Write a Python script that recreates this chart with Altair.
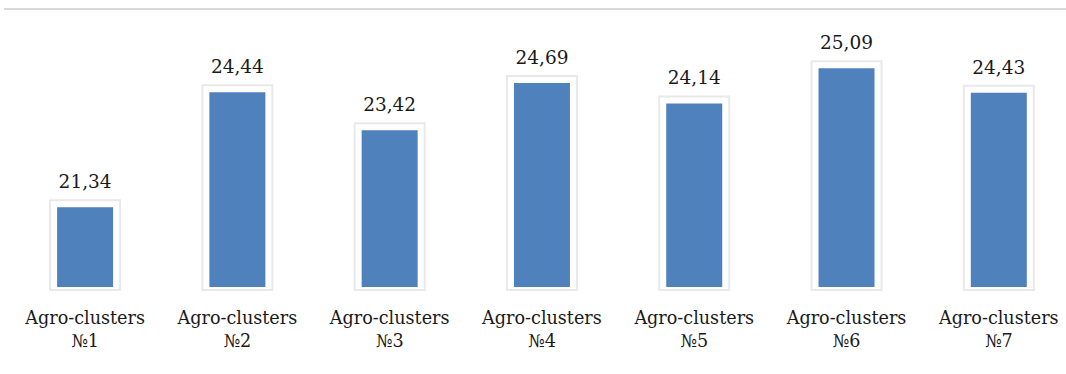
import altair as alt
import pandas as pd

# Agro-cluster values (comma used as decimal separator in labels)
clusters = ["№1", "№2", "№3", "№4", "№5", "№6", "№7"]
values = [21.34, 24.44, 23.42, 24.69, 24.14, 25.09, 24.43]

y_min, y_max = 19.19, 26.12

df = pd.DataFrame({
    "cluster": ["Agro-clusters\n" + c for c in clusters],
    "value": values,
    "label": [f"{v:.2f}".replace(".", ",") for v in values],
})

font = "DejaVu Serif"
text_color = "#1a1a1a"
bar_color = "#4F81BD"

x_enc = alt.X(
    "cluster:N",
    sort=None,
    title=None,
    scale=alt.Scale(paddingInner=0.632, paddingOuter=0.316, align=0.593),
    axis=alt.Axis(
        labelAngle=0,
        domain=False,
        ticks=False,
        labelFont=font,
        labelFontSize=17.6,
        labelColor=text_color,
        labelPadding=22,
        labelLineHeight=23,
        labelExpr="split(datum.label, '\\n')",
    ),
)
y_enc = alt.Y(
    "value:Q",
    title=None,
    scale=alt.Scale(domain=[y_min, y_max], zero=False, nice=False),
    axis=None,
)

base = alt.Chart(df)

# soft white frame behind each bar
frame = base.mark_bar(
    width=70,
    yOffset=-7,
    y2Offset=3,
    fill="white",
    stroke="#e9e9e9",
    strokeWidth=2,
).encode(x=x_enc, y=y_enc, y2=alt.datum(y_min))

bars = base.mark_bar(width=56, color=bar_color).encode(
    x=x_enc, y=y_enc, y2=alt.datum(y_min)
)

labels = base.mark_text(
    font=font,
    fontSize=18.5,
    color=text_color,
    baseline="alphabetic",
    dy=-19,
).encode(x=x_enc, y=y_enc, text="label:N")

# thin border line at the top of the chart
border = base.mark_rule(color="#d9d9d9", strokeWidth=1).encode(
    x=alt.value(4), x2=alt.value(1066), y=alt.value(-21)
)

chart = (
    alt.layer(border, frame, bars, labels)
    .properties(
        width=1066,
        height=257,
        padding={"left": 0, "right": 0, "top": 30, "bottom": 87},
        autosize=alt.AutoSizeParams(type="none"),
        background="white",
    )
    .configure_view(stroke=None)
)

chart.save("out.html", embed_options={"renderer": "svg", "actions": False})
